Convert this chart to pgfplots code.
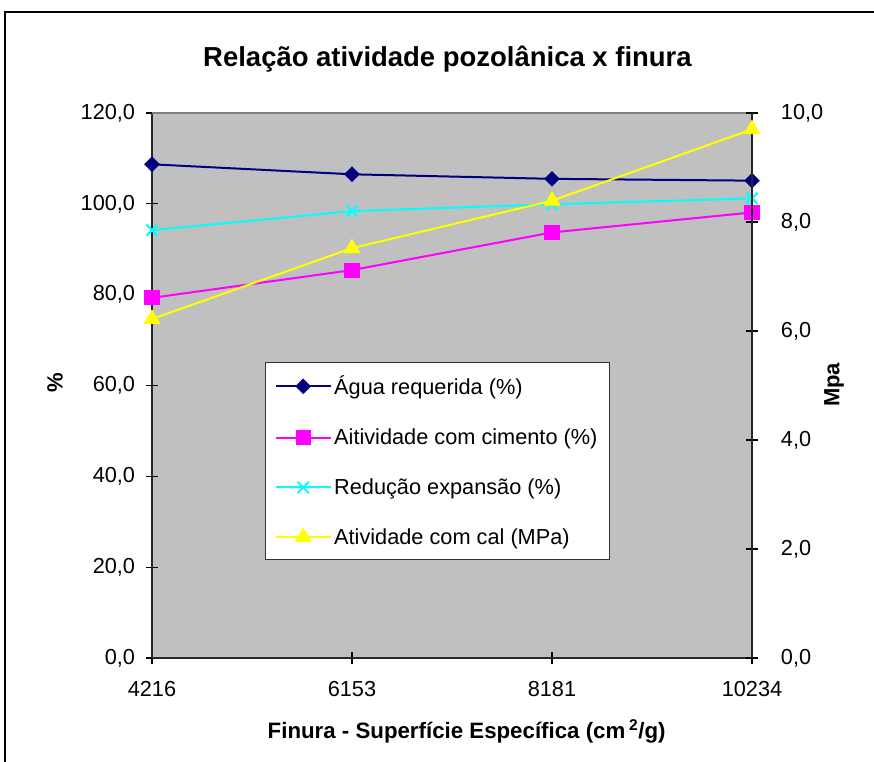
\documentclass[border=0pt]{standalone}
\usepackage{pgfplots}
\usepackage{pgfplotstable}
\pgfplotsset{compat=1.18}
\usepackage{fontspec}
\setmainfont{Liberation Sans}

\definecolor{cAgua}{HTML}{000080}
\definecolor{cCimento}{HTML}{FF00FF}
\definecolor{cReducao}{HTML}{00FFFF}
\definecolor{cCal}{HTML}{FFFF00}
\definecolor{plotbg}{HTML}{C0C0C0}
\definecolor{frameGray}{HTML}{808080}

% finura index: 0=4216, 1=6153, 2=8181, 3=10234
\pgfplotstableread{
x agua cimento reducao cal
0 108.7 79.3 94.2 6.22
1 106.5 85.4 98.4 7.52
2 105.5 93.7 99.9 8.39
3 105.1 98.1 101.2 9.70
}\dados

\pgfplotsset{
  base/.style={
    at={(114pt,78pt)}, anchor=south west,
    scale only axis, width=450pt, height=408.75pt,
    xmin=0, xmax=3, clip=false,
    tick align=center, major tick length=9pt,
    every tick/.style={black, line width=0.8pt},
    tick label style={font=\fontsize{16.3}{19}\selectfont},
    /pgf/number format/assume math mode=true,
    axis line style={black!85, line width=1.2pt},
    yticklabel style={/pgf/number format/fixed,
      /pgf/number format/fixed zerofill,
      /pgf/number format/precision=1,
      /pgf/number format/use comma},
    legend image code/.code={%
      \draw[mark repeat=2, mark phase=2]
        plot coordinates {(0pt,0pt) (20.5pt,0pt) (41pt,0pt)};},
  },
  serie/.style={line width=1.5pt, mark options={solid}},
}

\begin{document}
\begin{tikzpicture}[x=1pt, y=1pt]
\useasboundingbox (0,0) rectangle (655.5,571.5);
% chart frame
\draw[line width=1.5pt] (3.75,-5) -- (3.75,562.5) -- (665,562.5);

\begin{axis}[base,
  axis background/.style={fill=plotbg},
  axis y line*=left, axis x line*=bottom,
  ymin=0, ymax=120, ytick={0,20,...,120},
  xtick={0,1,2,3}, xticklabels={4216,6153,8181,10234},
  xticklabel style={inner ysep=0pt, yshift=-12.5pt},
  yticklabel style={inner xsep=0pt, xshift=-8pt},
]
\draw[frameGray, line width=1.2pt] (rel axis cs:0,1) -- (rel axis cs:1,1);
\addplot[serie, cAgua, mark=square*, mark size=3.4pt, mark options={rotate=45}]
  table[x=x, y=agua] {\dados};
\addplot[serie, cCimento, mark=square*, mark size=4.9pt]
  table[x=x, y=cimento] {\dados};
\addplot[serie, cReducao, mark=x, mark size=6pt]
  table[x=x, y=reducao] {\dados};
\end{axis}

\begin{axis}[base,
  axis y line*=right, axis x line=none,
  ymin=0, ymax=10, ytick={0,2,...,10},
  yticklabel style={inner xsep=0pt, xshift=17pt},
  legend style={at={(0.1883,0.543)}, anchor=north west,
    draw=black!80, line width=0.8pt, fill=white,
    font=\fontsize{16.3}{19}\selectfont,
    inner xsep=7pt, inner ysep=8pt, row sep=20pt},
  legend cell align=left,
]
\addlegendimage{serie, cAgua, mark=square*, mark size=3.4pt, mark options={rotate=45}}
\addlegendentry{Água requerida (\%)}
\addlegendimage{serie, cCimento, mark=square*, mark size=4.9pt}
\addlegendentry{Aitividade com cimento (\%)}
\addlegendimage{serie, cReducao, mark=x, mark size=6pt}
\addlegendentry{Redução expansão (\%)}
\addplot[serie, cCal, mark=triangle*, mark size=5.8pt]
  table[x=x, y=cal] {\dados};
\addlegendentry{Atividade com cal (MPa)}
\end{axis}

\node[anchor=base, font=\bfseries\fontsize{20.6}{24}\selectfont]
  at (335.6,521.25) {Relação atividade pozolânica x finura};
\node[anchor=base, font=\bfseries\fontsize{16.7}{20}\selectfont]
  at (350,17.25) {Finura - Superfície Específica (cm\,\textsuperscript{2}/g)};
\node[rotate=90, font=\bfseries\fontsize{16.5}{20}\selectfont]
  at (41.25,284.25) {\%};
\node[rotate=90, font=\bfseries\fontsize{16.5}{20}\selectfont]
  at (625.5,282.75) {Mpa};
\end{tikzpicture}
\end{document}
